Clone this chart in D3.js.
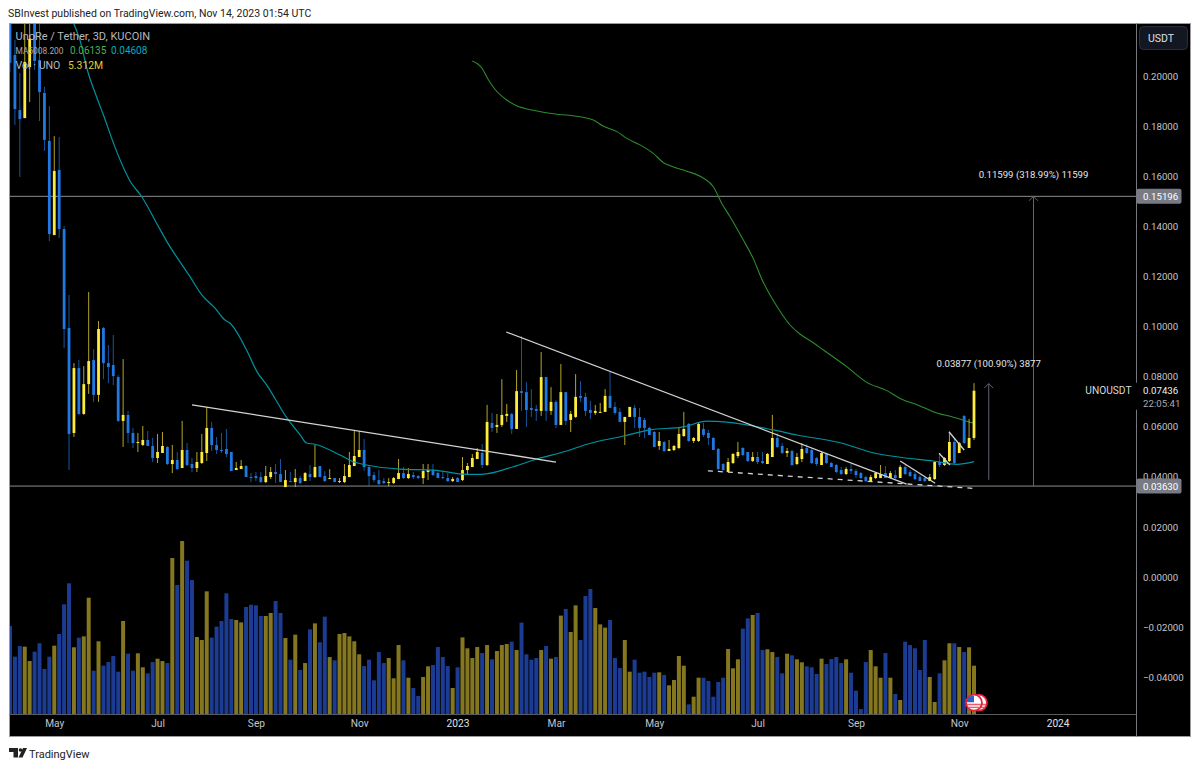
<!DOCTYPE html>
<html>
<head>
<meta charset="utf-8">
<title>UNOUSDT</title>
<script src="https://cdn.jsdelivr.net/npm/d3@7"></script>
<style>
  html, body { margin: 0; padding: 0; background: #fff; }
  svg { display: block; }
  text { font-family: Roboto, "Liberation Sans", sans-serif; }
</style>
</head>
<body>
<svg id="chart" width="1200" height="768"></svg>
<script>
// candles, one entry per 3D bar
const opens = [
  .25,.2084,.1864,.1832,.2036,.235,.2064,.1932,.1741,.1365,
  .1625,.1389,.0994,.0575,.0834,.0651,.0770,.0866,.0727,.0994,
  .0854,.0846,.0798,.0623,.0647,.0575,.0535,.0527,.0547,.0523,
  .0475,.0495,.0519,.0451,.0467,.0435,.0507,.0451,.0435,.0455,
  .0495,.0595,.0527,.0507,.0511,.0499,.0427,.0431,.0443,.0399,
  .0403,.0399,.0379,.0399,.0419,.0411,.0359,.0383,.0379,.0395,
  .0383,.0411,.0399,.0443,.0403,.0391,.0395,.0379,.0379,.0399,
  .0443,.0479,.0507,.0439,.0407,.0387,.0383,.0375,.0375,.0391,
  .0415,.0395,.0407,.0403,.0395,.0419,.0427,.0415,.0399,.0395,
  .0383,.0395,.0387,.0427,.0439,.0471,.0495,.0447,.0615,.0599,
  .0607,.0643,.0651,.0591,.0742,.0738,.0675,.0671,.0663,.0798,
  .0663,.0699,.0607,.0738,.0627,.0639,.0723,.0719,.0667,.0655,
  .0657,.0659,.0723,.0679,.0659,.0619,.0639,.0675,.0639,.0627,
  .0595,.0579,.0523,.0539,.0503,.0507,.0515,.0563,.0611,.0543,
  .0543,.0591,.0575,.0555,.0511,.0451,.0419,.0455,.0483,.0515,
  .0499,.0463,.0479,.0463,.0451,.0479,.0555,.0523,.0495,.0503,
  .0451,.0471,.0515,.0507,.0475,.0447,.0491,.0455,.0447,.0427,
  .0411,.0431,.0423,.0415,.0399,.0383,.0395,.0395,.0415,.0395,
  .0407,.0395,.0439,.0419,.0411,.0399,.0395,.0383,.0391,.0459,
  .0447,.0463,.0539,.0495,.0643,.0515,.0555
];
const highs = [
  .27,.2144,.2012,.24,.25,.25,.24,.1956,.1880,.1760,
  .1756,.1401,.1126,.0854,.0866,.0842,.1138,.0910,.1022,.0998,
  .0926,.0966,.0806,.0870,.0663,.0595,.0575,.0603,.0583,.0555,
  .0571,.0579,.0523,.0527,.0499,.0623,.0535,.0475,.0499,.0571,
  .0679,.0619,.0559,.0575,.0591,.0499,.0459,.0467,.0447,.0415,
  .0419,.0419,.0443,.0439,.0451,.0471,.0427,.0419,.0431,.0403,
  .0419,.0447,.0527,.0443,.0423,.0431,.0395,.0395,.0451,.0499,
  .0587,.0583,.0551,.0447,.0419,.0427,.0395,.0395,.0399,.0471,
  .0439,.0435,.0419,.0407,.0451,.0451,.0451,.0419,.0419,.0415,
  .0399,.0399,.0479,.0455,.0491,.0515,.0531,.0687,.0655,.0651,
  .0790,.0691,.0655,.0826,.0962,.0778,.0750,.0687,.0898,.0798,
  .0758,.0706,.0850,.0738,.0663,.0810,.0782,.0735,.0703,.0687,
  .0695,.0750,.0818,.0699,.0675,.0639,.0679,.0687,.0675,.0635,
  .0599,.0583,.0579,.0543,.0547,.0527,.0599,.0659,.0615,.0559,
  .0615,.0615,.0587,.0559,.0515,.0455,.0475,.0495,.0539,.0519,
  .0499,.0499,.0499,.0499,.0495,.0647,.0575,.0535,.0515,.0507,
  .0495,.0535,.0531,.0511,.0479,.0503,.0495,.0459,.0451,.0439,
  .0439,.0451,.0431,.0419,.0403,.0407,.0419,.0447,.0443,.0423,
  .0427,.0447,.0447,.0427,.0419,.0407,.0403,.0411,.0463,.0491,
  .0479,.0579,.0555,.0539,.0647,.0631,.0774
];
const lows = [
  .2017,.1804,.1597,.1832,.1896,.2024,.1820,.1701,.1341,.1365,
  .1353,.0914,.0427,.0559,.0647,.0647,.0731,.0699,.0699,.0790,
  .0774,.0766,.0619,.0519,.0535,.0515,.0499,.0523,.0523,.0459,
  .0455,.0495,.0447,.0415,.0427,.0435,.0443,.0419,.0419,.0451,
  .0463,.0503,.0491,.0495,.0479,.0423,.0427,.0431,.0399,.0379,
  .0383,.0375,.0375,.0391,.0375,.0379,.0359,.0379,.0359,.0371,
  .0383,.0383,.0395,.0399,.0379,.0391,.0379,.0375,.0375,.0399,
  .0443,.0479,.0423,.0363,.0379,.0367,.0371,.0363,.0371,.0391,
  .0391,.0391,.0391,.0391,.0371,.0387,.0403,.0395,.0391,.0379,
  .0379,.0379,.0383,.0407,.0439,.0471,.0435,.0443,.0579,.0575,
  .0599,.0619,.0571,.0591,.0663,.0599,.0639,.0623,.0643,.0623,
  .0647,.0595,.0607,.0607,.0579,.0635,.0699,.0643,.0631,.0647,
  .0655,.0659,.0675,.0647,.0619,.0527,.0639,.0595,.0559,.0555,
  .0567,.0519,.0507,.0499,.0503,.0503,.0511,.0559,.0539,.0535,
  .0539,.0559,.0527,.0507,.0427,.0423,.0419,.0451,.0475,.0483,
  .0459,.0459,.0451,.0451,.0451,.0479,.0515,.0491,.0479,.0443,
  .0447,.0459,.0491,.0451,.0443,.0447,.0451,.0439,.0415,.0407,
  .0407,.0411,.0395,.0391,.0379,.0379,.0391,.0395,.0395,.0395,
  .0391,.0395,.0407,.0399,.0387,.0383,.0379,.0383,.0387,.0439,
  .0443,.0459,.0451,.0495,.0531,.0515,.0547
];
const closes = [
  .2053,.1868,.1828,.2056,.2148,.2060,.1936,.1745,.1369,.1621,
  .1389,.0990,.0571,.0834,.0651,.0770,.0862,.0727,.0990,.0854,
  .0838,.0802,.0623,.0647,.0575,.0535,.0539,.0547,.0523,.0475,
  .0499,.0523,.0451,.0467,.0431,.0507,.0447,.0435,.0459,.0499,
  .0595,.0527,.0507,.0503,.0491,.0423,.0435,.0443,.0399,.0395,
  .0395,.0379,.0403,.0419,.0411,.0379,.0387,.0379,.0395,.0375,
  .0415,.0399,.0439,.0399,.0383,.0395,.0379,.0383,.0403,.0447,
  .0483,.0507,.0439,.0403,.0387,.0371,.0375,.0379,.0395,.0415,
  .0395,.0411,.0399,.0395,.0423,.0427,.0407,.0395,.0395,.0383,
  .0391,.0379,.0427,.0443,.0475,.0499,.0447,.0619,.0595,.0607,
  .0647,.0651,.0591,.0742,.0735,.0667,.0667,.0663,.0798,.0663,
  .0699,.0607,.0738,.0623,.0651,.0719,.0715,.0663,.0655,.0663,
  .0659,.0723,.0675,.0655,.0619,.0639,.0679,.0639,.0595,.0595,
  .0567,.0519,.0543,.0503,.0511,.0523,.0571,.0591,.0543,.0555,
  .0611,.0567,.0555,.0507,.0431,.0427,.0459,.0491,.0499,.0487,
  .0463,.0479,.0459,.0455,.0491,.0555,.0519,.0495,.0503,.0447,
  .0479,.0511,.0495,.0455,.0451,.0495,.0455,.0439,.0419,.0411,
  .0431,.0423,.0407,.0395,.0383,.0399,.0415,.0411,.0395,.0415,
  .0395,.0439,.0411,.0403,.0391,.0383,.0383,.0399,.0459,.0447,
  .0475,.0539,.0455,.0535,.0535,.0555,.07436
];
// volume in millions
const volumes = [
  9.67,6.30,7.47,7.40,5.82,6.85,7.77,4.95,6.30,7.51,8.79,12.05,14.36,7.33,8.39,8.53,12.78,4.76,7.99,5.31,
  5.71,6.37,4.65,10.22,6.63,4.76,6.67,5.13,4.47,5.71,6.08,5.82,5.60,17.14,14.18,19.01,16.85,14.73,8.46,8.13,
  13.48,8.39,9.60,10.22,13.26,10.44,10.33,10.07,11.76,12.01,11.94,10.77,10.77,11.10,12.42,11.10,8.35,5.97,8.72,4.84,
  5.60,9.30,9.96,7.88,10.70,6.26,5.90,8.79,8.90,8.53,7.99,6.56,5.27,5.97,3.70,6.81,5.60,6.15,3.92,7.58,
  5.90,3.99,2.86,1.98,4.07,5.24,5.38,7.36,6.26,5.27,2.86,5.13,8.42,7.22,6.15,7.36,6.70,7.58,6.01,6.92,
  7.58,7.69,7.95,7.03,10.04,6.56,5.97,6.15,7.03,7.47,6.08,6.26,10.81,11.54,9.01,11.94,8.13,12.97,13.74,11.65,
  9.85,9.49,10.33,6.15,5.05,8.13,4.65,5.97,4.54,4.65,4.07,4.54,4.58,4.29,3.15,3.74,6.37,5.31,1.06,1.90,
  3.99,3.99,3.63,1.90,3.52,3.99,7.14,5.02,6.01,9.38,10.51,10.88,11.10,7.03,7.11,6.81,6.26,4.47,6.63,6.45,
  6.01,5.68,5.24,5.13,4.40,6.08,5.49,6.04,6.26,5.60,6.01,4.54,2.56,0.55,5.71,7.03,5.24,3.99,6.70,3.99,
  2.20,1.54,7.95,7.58,7.22,4.84,8.13,4.07,1.32,4.47,5.90,7.77,7.77,7.36,6.81,7.33,5.312
];

// moving averages, read at these bars
const ma50Bars = [12.9,14.2,15.9,17.6,19,21.4,24.4,26.8,30.2,31.9,36.6,39,41.7,43.7,44.7,48.1,50.2,52.2,56.3,59,60.3,62,67.1,69.8,72.5,79.3,86.1,92.9,95.9,102.3,107.1,113.2,117.3,125,130.1,136.9,141.7,145.7,155.2,160,168.8,175.5,181,187.7,192.5,196];
const ma50Values = [.2212,.2144,.2012,.1917,.1844,.1713,.1581,.1518,.1398,.1339,.1199,.1126,.1073,.1026,.1014,.0906,.0820,.0766,.0635,.0567,.0535,.0530,.0487,.0460,.0447,.0431,.0427,.0410,.0410,.0440,.0471,.0503,.0530,.0564,.0587,.0599,.0622,.0618,.0587,.0567,.0536,.0496,.0478,.0463,.0450,.04608];
const ma200Bars = [94,95.9,97.3,98.6,101,103,106.4,111.2,113.2,118.6,120.6,123.4,125.4,128.1,130.8,132.8,134.9,137.6,141,143,144.7,146.4,149.1,151.1,152.8,156.4,158.6,160.6,163.1,165.4,170.1,174.2,178.3,181,185,187.7,191.8,196];
const ma200Values = [.2060,.2033,.1984,.1947,.1904,.1881,.1863,.1847,.1844,.1824,.1800,.1778,.1751,.1725,.1691,.1655,.1637,.1620,.1592,.1558,.1492,.1438,.1345,.1272,.1192,.1066,.1006,.0970,.0938,.0906,.0840,.0777,.0744,.0713,.0683,.0660,.0638,.06135];

// drawings on the chart: [bar, price, bar, price]
const trendLines = [
  [37,.0687,111,.0459],
  [100.9,.0978,182.3,.0371],
  [181,.0463,188.1,.0374],
  [188.9,.0494,191.1,.0447],
  [190.9,.0580,194,.0507]
];
const dashedLine = [141.9,.0424,195.8,.0354];
const levels = [0.15196, 0.0363];

// axis labels
const priceTicks = [0.2,0.18,0.16,0.14,0.12,0.1,0.08,0.06,0.04,0.02,0,-0.02,-0.04];
const timeBars = [9,30,50,71,91,111,131,152,172,193,213];
const timeLabels = ['May','Jul','Sep','Nov','2023','Mar','May','Jul','Sep','Nov','2024'];
const boldLabels = ['2023','2024'];

const svg = d3.select('#chart');

const paneLeft = 9.5, paneRight = 1136.5, paneTop = 23.5, timeTop = 714, paneBottom = 736.5, edge = 1190.5;

const xs = d3.scaleLinear().domain([0,196]).range([10,974]);
const ys = d3.scaleLinear().domain([0.2,-0.04]).range([76,677.2]);
const yv = d3.scaleLinear().domain([0,20]).range([714,532]);

const upColor = '#ffeb3b', downColor = '#2079e2';
const upVol = '#85771f', downVol = '#1b3c92';
const greyLine = '#8b8c93', axisText = '#c3c5cc';

// frame
svg.append('rect').attr('x',paneLeft).attr('y',paneTop).attr('width',edge-paneLeft).attr('height',paneBottom-paneTop)
  .attr('fill','#000').attr('stroke','#9a9a9e').attr('stroke-width',1);

svg.append('defs').append('clipPath').attr('id','pane').append('rect')
  .attr('x',paneLeft+0.5).attr('y',paneTop+0.5).attr('width',paneRight-paneLeft-0.5).attr('height',timeTop-paneTop-0.5);

const pane = svg.append('g').attr('clip-path','url(#pane)');

// volume goes under the candles
const barIdx = d3.range(opens.length);
pane.append('g').selectAll('rect').data(barIdx).enter().append('rect')
  .attr('x', i => xs(i)-2)
  .attr('width', 4)
  .attr('y', i => yv(volumes[i]))
  .attr('height', i => yv(0)-yv(volumes[i]))
  .attr('fill', i => closes[i] >= opens[i] ? upVol : downVol);

// horizontal levels
pane.append('g').selectAll('line').data(levels).enter().append('line')
  .attr('x1',paneLeft).attr('x2',paneRight)
  .attr('y1', d => ys(d)).attr('y2', d => ys(d))
  .attr('stroke',greyLine).attr('stroke-width',1);

const maLine = (bars, vals) => d3.line().x((d,i) => xs(bars[i])).y(d => ys(d)).curve(d3.curveMonotoneX)(vals);
pane.append('path').attr('d',maLine(ma200Bars,ma200Values)).attr('fill','none').attr('stroke','#2e8b2f').attr('stroke-width',1.1);

// candles
const candles = pane.append('g').selectAll('g').data(barIdx).enter().append('g');
candles.append('line')
  .attr('x1', i => xs(i)).attr('x2', i => xs(i))
  .attr('y1', i => ys(highs[i])).attr('y2', i => ys(lows[i]))
  .attr('stroke', i => closes[i] >= opens[i] ? upColor : downColor)
  .attr('stroke-opacity',0.7)
  .attr('stroke-width',1);
candles.append('rect')
  .attr('x', i => xs(i)-1.4)
  .attr('width',2.8)
  .attr('y', i => ys(Math.max(opens[i],closes[i])))
  .attr('height', i => Math.max(1, Math.abs(ys(opens[i])-ys(closes[i]))))
  .attr('fill', i => closes[i] >= opens[i] ? upColor : downColor);

pane.append('path').attr('d',maLine(ma50Bars,ma50Values)).attr('fill','none').attr('stroke','#00929f').attr('stroke-width',1.2);

// trend lines
pane.append('g').selectAll('line').data(trendLines).enter().append('line')
  .attr('x1', d => xs(d[0])).attr('y1', d => ys(d[1]))
  .attr('x2', d => xs(d[2])).attr('y2', d => ys(d[3]))
  .attr('stroke','#d4d4d4').attr('stroke-width',1.3);
pane.append('line')
  .attr('x1',xs(dashedLine[0])).attr('y1',ys(dashedLine[1]))
  .attr('x2',xs(dashedLine[2])).attr('y2',ys(dashedLine[3]))
  .attr('stroke','#d4d4d4').attr('stroke-width',1.3).attr('stroke-dasharray','5 5');

// long position arrows
const arrows = [
  {bar:208.1, from:0.0363, to:0.15196, label:'0.11599 (318.99%) 11599', labelAt:0.1605},
  {bar:199, from:0.0388, to:0.0772, label:'0.03877 (100.90%) 3877', labelAt:0.0853}
];
const arrowG = pane.append('g').selectAll('g').data(arrows).enter().append('g');
arrowG.append('line')
  .attr('x1', d => xs(d.bar)).attr('x2', d => xs(d.bar))
  .attr('y1', d => ys(d.from)).attr('y2', d => ys(d.to))
  .attr('stroke','#63656e').attr('stroke-width',1);
arrowG.append('path')
  .attr('d', d => `M${xs(d.bar)-4.5},${ys(d.to)+4.5}L${xs(d.bar)},${ys(d.to)}L${xs(d.bar)+4.5},${ys(d.to)+4.5}`)
  .attr('fill','none').attr('stroke','#63656e').attr('stroke-width',1);
arrowG.append('text')
  .attr('x', d => xs(d.bar)).attr('y', d => ys(d.labelAt)+3.5)
  .attr('text-anchor','middle').attr('fill','#e6e6e6').attr('font-size',9.6)
  .text(d => d.label);

// time axis and price axis
const timeAxis = svg.append('g').attr('transform',`translate(0,${timeTop})`)
  .call(d3.axisBottom(xs).tickValues(timeBars).tickSize(0).tickPadding(6)
    .tickFormat((d,i) => timeLabels[i]));
timeAxis.select('.domain').remove();
timeAxis.selectAll('text').attr('font-family','Roboto').attr('font-size',10.2)
  .attr('fill', (d,i) => boldLabels.includes(timeLabels[i]) ? '#e2e3e8' : axisText);

const priceAxis = svg.append('g').attr('transform',`translate(${paneRight},0)`)
  .call(d3.axisRight(ys).tickValues(priceTicks).tickSize(0).tickPadding(6.5).tickFormat(d3.format('.5f')));
priceAxis.select('.domain').remove();
priceAxis.selectAll('text').attr('font-family','Roboto').attr('font-size',9.7).attr('fill',axisText);

svg.append('line').attr('x1',paneLeft).attr('x2',paneRight).attr('y1',timeTop+0.5).attr('y2',timeTop+0.5).attr('stroke','#5a5b60');
svg.append('line').attr('x1',paneRight).attr('x2',paneRight).attr('y1',paneTop).attr('y2',paneBottom).attr('stroke','#77787d');

// level tags on the price scale
const tags = svg.append('g').selectAll('g').data(levels).enter().append('g');
tags.append('rect')
  .attr('x',paneRight).attr('width',45).attr('y', d => ys(d)-7.5).attr('height',15).attr('rx',2)
  .attr('fill','#787b86');
tags.append('text')
  .attr('x',paneRight+6.5).attr('y', d => ys(d)+3.6)
  .attr('fill','#fff').attr('font-size',9.7)
  .text(d3.format('.5f'));

// last price
const lastY = ys(closes[closes.length-1]);
svg.append('rect').attr('x',paneRight-1).attr('y',lastY-8).attr('width',50).attr('height',27).attr('fill','#000');
svg.append('text').attr('x',paneRight-5).attr('y',lastY+3.6).attr('text-anchor','end').attr('fill','#d8d9dd').attr('font-size',10.2).text('UNOUSDT');
svg.append('text').attr('x',paneRight+6.5).attr('y',lastY+3.6).attr('fill','#eeeeee').attr('font-size',9.7).text('0.07436');
svg.append('text').attr('x',paneRight+6.5).attr('y',lastY+16).attr('fill','#a8a9af').attr('font-size',9.7).text('22:05:41');

// currency button
svg.append('rect').attr('x',1139.5).attr('y',26.5).attr('width',48).attr('height',23).attr('rx',4)
  .attr('fill','#131722').attr('stroke','#2a2e39');
svg.append('text').attr('x',1148).attr('y',41.5).attr('fill','#dfe0e5').attr('font-size',10.5).text('USDT');

// pane legend
const legend = [
  {x:15.5,y:39.5,t:'UnoRe / Tether, 3D, KUCOIN',c:'#b8b9be',s:11},
  {x:15.5,y:54,t:'MA5008.200',c:'#a8a9ae',s:8.4},
  {x:70,y:54,t:'0.06135',c:'#4caf50',s:10},
  {x:111,y:54,t:'0.04608',c:'#00acc1',s:10},
  {x:15.5,y:69,t:'Vol · UNO',c:'#b8b9be',s:10.6},
  {x:68,y:69,t:'5.312M',c:'#e0cd35',s:10.4}
];
svg.append('g').selectAll('text').data(legend).enter().append('text')
  .attr('x',d => d.x).attr('y',d => d.y).attr('fill',d => d.c).attr('font-size',d => d.s).text(d => d.t);

// event flags at the end of the volume
const flagBars = [197,196];
const flags = svg.append('g').selectAll('g').data(flagBars).enter().append('g')
  .attr('transform', d => `translate(${xs(d)},702.7)`);
flags.append('circle').attr('r',8).attr('fill','#fff').attr('stroke','#e0243c').attr('stroke-width',1.8);
flags.append('rect').attr('x',-7).attr('y',1).attr('width',14).attr('height',1.6).attr('fill','#ef5a6a');
flags.append('rect').attr('x',-6).attr('y',4).attr('width',12).attr('height',1.4).attr('fill','#ef5a6a');
flags.append('path').attr('d','M-7,-0.5V-3A7,7,0,0,1,0,-7V-0.5Z').attr('fill','#2f5fc4');

// page header and footer
svg.append('text').attr('x',8).attr('y',16.5).attr('fill','#222').attr('font-size',10.5)
  .text('SBInvest published on TradingView.com, Nov 14, 2023 01:54 UTC');
svg.append('path').attr('d','M9,748H18V757.5H13.5V752H9ZM27,748L22.5,757.5H18.5L23,748Z').attr('fill','#222');
svg.append('circle').attr('cx',20.5).attr('cy',750).attr('r',1.8).attr('fill','#222');
svg.append('text').attr('x',29).attr('y',757.5).attr('fill','#222').attr('font-size',11).text('TradingView');
</script>
</body>
</html>
